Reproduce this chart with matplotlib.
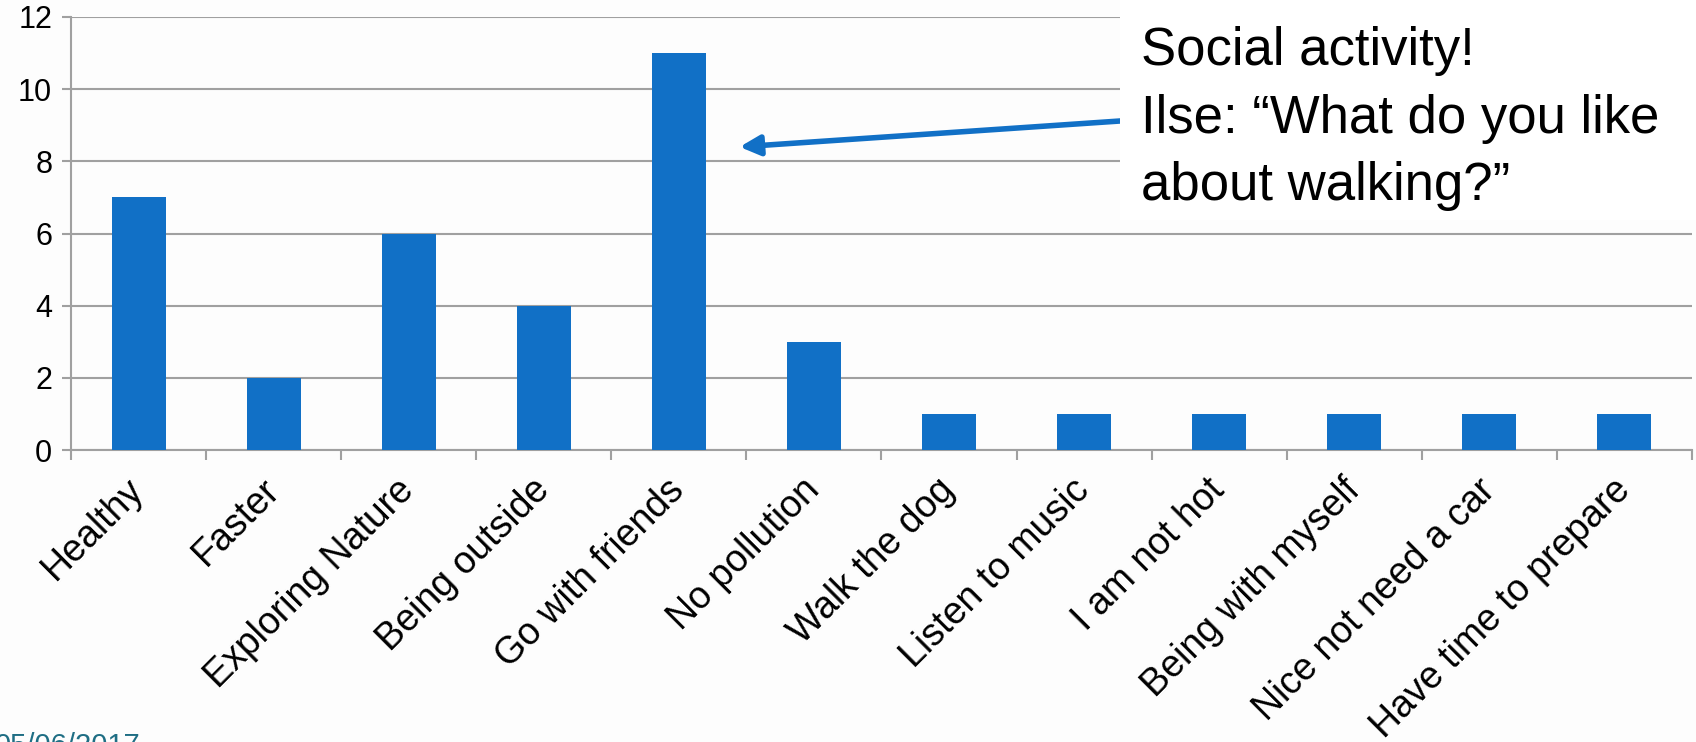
import numpy as np
import matplotlib
matplotlib.use("Agg")
import matplotlib.pyplot as plt
from matplotlib.patches import Rectangle

# data
reasons = ["Healthy", "Faster", "Exploring Nature", "Being outside", "Go with friends",
           "No pollution", "Walk the dog", "Listen to music", "I am not hot",
           "Being with myself", "Nice not need a car", "Have time to prepare"]
counts = [7, 2, 6, 4, 11, 3, 1, 1, 1, 1, 1, 1]
y_ticks = [0, 2, 4, 6, 8, 10, 12]
note = "Social activity!\nIlse: \u201cWhat do you like\nabout walking?\u201d"
date_text = "05/06/2017"

plt.rcParams['font.family'] = ['Liberation Sans', 'DejaVu Sans']

bar_color = "#1170C6"
grid_color = "#A0A0A0"

fig = plt.figure(figsize=(16.96, 7.42), dpi=100)
fig.patch.set_facecolor("#FDFDFD")
ax = fig.add_axes([71 / 1696, 1 - 450 / 742, (1692 - 71) / 1696, (450 - 17) / 742])
ax.set_facecolor("none")

x = np.arange(len(reasons))
ax.bar(x, counts, width=0.4, color=bar_color, zorder=3)

ax.set_xlim(-0.5, len(reasons) - 0.5)
ax.set_ylim(0, 12)
ax.set_yticks(y_ticks)
ax.set_yticklabels([str(v) for v in y_ticks], fontsize=22)
ax.yaxis.grid(True, color=grid_color, linewidth=1.5, zorder=0)

ax.set_xticks(x)
ax.set_xticklabels(reasons, rotation=45, ha="right", va="center",
                   rotation_mode="anchor", fontsize=27)
ax.set_xticks(np.arange(len(reasons) + 1) - 0.5, minor=True)
ax.tick_params(axis="x", which="major", length=0, pad=25)
ax.tick_params(axis="x", which="minor", length=7.5, width=1.5, color=grid_color)
ax.tick_params(axis="y", length=6.5, width=1.5, color=grid_color, pad=7)

for side in ["top", "right"]:
    ax.spines[side].set_visible(False)
for side in ["left", "bottom"]:
    ax.spines[side].set_color(grid_color)
    ax.spines[side].set_linewidth(1.5)

# callout box covering the top-right corner
fig.patches.append(Rectangle((1120 / 1696, 1 - 220 / 742), 1 - 1120 / 1696, 220 / 742,
                             transform=fig.transFigure, facecolor="white",
                             edgecolor="none", zorder=5))
fig.text(1141 / 1696, 1 - 26 / 742, note, fontsize=38, va="top", ha="left",
         linespacing=1.45, zorder=6)

# arrow pointing at the "Go with friends" bar
ax.annotate("", xy=(5.0 - 0.55, 8.4), xycoords="data",
            xytext=(1120 / 1696, 1 - 121 / 742), textcoords="figure fraction",
            arrowprops=dict(arrowstyle="-|>", color=bar_color, lw=4,
                            mutation_scale=30, shrinkA=0, shrinkB=0), zorder=4)

fig.text(-0.003, 1 - 732 / 742, date_text, fontsize=21, color="#1F6E84",
         va="top", ha="left")

fig.savefig("out.png", dpi=100, facecolor=fig.get_facecolor())
